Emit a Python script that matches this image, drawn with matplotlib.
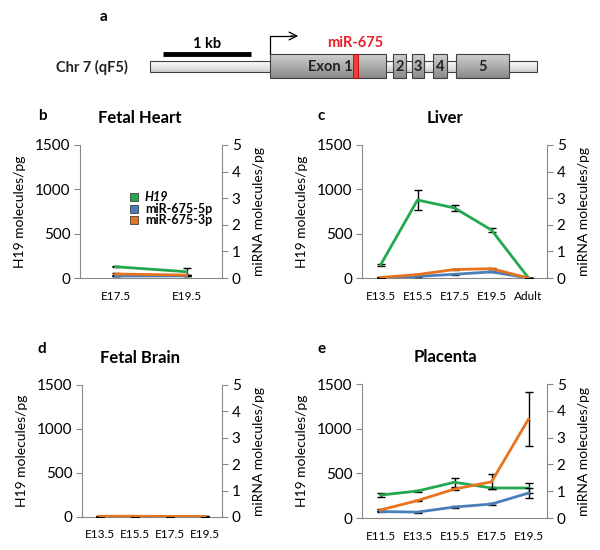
import numpy as np
import matplotlib
matplotlib.use('Agg')
import matplotlib.pyplot as plt
from matplotlib.patches import Rectangle

plt.rcParams['font.family'] = ['Lato', 'DejaVu Sans']

GREEN = '#22a84f'
BLUE = '#4a7ebb'
ORANGE = '#e8731e'

# panel data: H19 on left axis, miRNA on right axis
heart_x = ['E17.5', 'E19.5']
heart_h19 = [127, 71]
heart_h19_err = [8, 38]
heart_5p = [0.075, 0.08]
heart_5p_err = [0.01, 0.02]
heart_3p = [0.15, 0.11]
heart_3p_err = [0.02, 0.02]

liver_x = ['E13.5', 'E15.5', 'E17.5', 'E19.5', 'Adult']
liver_h19 = [146, 880, 790, 541, 0]
liver_h19_err = [10, 115, 30, 20, 0]
liver_5p = [0.0, 0.06, 0.14, 0.23, 0.0]
liver_5p_err = [0.0, 0.01, 0.02, 0.02, 0.0]
liver_3p = [0.02, 0.13, 0.32, 0.35, 0.0]
liver_3p_err = [0.0, 0.01, 0.03, 0.01, 0.0]

brain_x = ['E13.5', 'E15.5', 'E17.5', 'E19.5']
brain_h19 = [4, 3, 3, 2]
brain_h19_err = [0, 0, 0, 0]
brain_5p = [0.01, 0.01, 0.01, 0.01]
brain_5p_err = [0, 0, 0, 0]
brain_3p = [0.03, 0.03, 0.02, 0.02]
brain_3p_err = [0, 0, 0, 0]

plac_x = ['E11.5', 'E13.5', 'E15.5', 'E17.5', 'E19.5']
plac_h19 = [257, 302, 400, 336, 336]
plac_h19_err = [20, 12, 50, 10, 60]
plac_5p = [0.24, 0.22, 0.41, 0.52, 0.93]
plac_5p_err = [0.03, 0.02, 0.03, 0.05, 0.2]
plac_3p = [0.3, 0.65, 1.08, 1.35, 3.69]
plac_3p_err = [0.03, 0.02, 0.03, 0.28, 1.0]

fig = plt.figure(figsize=(6, 5.5), dpi=100)

# ---- gene diagram (pixel coordinates) ----
axg = fig.add_axes([0, 1 - 100 / 550, 1, 100 / 550])
axg.set_xlim(0, 600)
axg.set_ylim(100, 0)
axg.axis('off')


def grad_box(ax, x0, x1, y0, y1, c_top, c_bot, z=2):
    grad = np.linspace(0, 1, 50).reshape(-1, 1)
    top = np.array(matplotlib.colors.to_rgb(c_top))
    bot = np.array(matplotlib.colors.to_rgb(c_bot))
    img = top + grad[..., None] * (bot - top)
    img = np.repeat(img, 2, axis=1)
    ax.imshow(img, extent=[x0, x1, y1, y0], aspect='auto', zorder=z)
    ax.add_patch(Rectangle((x0, y0), x1 - x0, y1 - y0, fill=False,
                           edgecolor='#404040', lw=0.8, zorder=z + 0.5))


grad_box(axg, 150, 537, 61, 72, '#ffffff', '#cfcfcf', z=1)
exons = [(270, 386), (393, 406), (412, 424), (433, 447), (456, 509)]
for x0, x1 in exons:
    grad_box(axg, x0, x1, 54, 78, '#d0d0d0', '#8a8a8a', z=2)
axg.add_patch(Rectangle((353, 54), 5, 24, facecolor='#f03c3c',
                        edgecolor='#c00000', lw=0.6, zorder=4))
axg.text(330, 67, 'Exon 1', ha='center', va='center', fontsize=10.5,
         fontweight='bold', color='#222222', zorder=5)
for lab, (x0, x1) in zip(['2', '3', '4', '5'], exons[1:]):
    axg.text((x0 + x1) / 2, 67, lab, ha='center', va='center', fontsize=10.5,
             fontweight='bold', color='#222222', zorder=5)
axg.text(355, 43, 'miR-675', ha='center', va='center', fontsize=10.5,
         fontweight='bold', color='#e8202a')
axg.text(128, 67, 'Chr 7 (qF5)', ha='right', va='center', fontsize=10.5,
         fontweight='bold', color='#222222')
axg.plot([163, 251], [54, 54], color='black', lw=3.5, solid_capstyle='butt')
axg.text(207, 44, '1 kb', ha='center', va='center', fontsize=10.5, fontweight='bold')
axg.plot([270, 270, 292], [54, 36, 36], color='black', lw=0.9)
axg.annotate('', xy=(301, 36), xytext=(288, 36),
             arrowprops=dict(arrowstyle='->', lw=0.9, color='black', mutation_scale=14))
fig.text(100 / 600, 1 - 17 / 550, 'a', fontsize=11, fontweight='bold', va='center')


def panel(rect, cats, h19, h19e, p5, p5e, p3, p3e, title, letter, title_x, letter_xy):
    ax = fig.add_axes(rect)
    ax2 = ax.twinx()
    x = np.arange(len(cats))
    ekw = dict(ecolor='black', elinewidth=1.0, capsize=3, capthick=1.0)
    ax.errorbar(x, h19, yerr=h19e, color=GREEN, lw=2, **ekw)
    ax2.errorbar(x, p5, yerr=p5e, color=BLUE, lw=2, **ekw)
    ax2.errorbar(x, p3, yerr=p3e, color=ORANGE, lw=2, **ekw)
    ax.set_xlim(-0.5, len(cats) - 0.5)
    ax.set_ylim(0, 1500)
    ax2.set_ylim(0, 5)
    ax.set_yticks([0, 500, 1000, 1500])
    ax2.set_yticks([0, 1, 2, 3, 4, 5])
    ax.set_xticks(x)
    ax.set_xticklabels(cats, fontsize=8.5)
    ax.tick_params(axis='x', length=0, pad=9)
    ax.tick_params(axis='y', labelsize=11, length=4, color='#888888', pad=3)
    ax2.tick_params(axis='y', labelsize=11, length=4, color='#888888', pad=3)
    for a in (ax, ax2):
        a.spines['top'].set_visible(False)
        for s in a.spines.values():
            s.set_color('#888888')
    ax.spines['right'].set_visible(False)
    ax2.spines['left'].set_visible(False)
    ax2.spines['bottom'].set_visible(False)
    ax.set_ylabel('H19 molecules/pg', fontsize=10, labelpad=6)
    ax2.set_ylabel('miRNA molecules/pg', fontsize=10, labelpad=9)
    top_px = (1 - rect[1] - rect[3]) * 550
    fig.text(title_x / 600, 1 - (top_px - 27) / 550, title, ha='center', va='center',
             fontsize=12, fontweight='bold')
    fig.text(letter_xy[0] / 600, 1 - letter_xy[1] / 550, letter, fontsize=11,
             fontweight='bold', va='center')
    return ax, ax2


panel([80 / 600, 1 - 278 / 550, 142 / 600, 133 / 550], heart_x,
      heart_h19, heart_h19_err, heart_5p, heart_5p_err, heart_3p, heart_3p_err,
      'Fetal Heart', 'b', 140, (38, 116))
panel([362 / 600, 1 - 278 / 550, 185 / 600, 133 / 550], liver_x,
      liver_h19, liver_h19_err, liver_5p, liver_5p_err, liver_3p, liver_3p_err,
      'Liver', 'c', 445, (318, 116))
panel([82 / 600, 1 - 517 / 550, 140 / 600, 132 / 550], brain_x,
      brain_h19, brain_h19_err, brain_5p, brain_5p_err, brain_3p, brain_3p_err,
      'Fetal Brain', 'd', 140, (38, 349))
panel([362 / 600, 1 - 518 / 550, 185 / 600, 134 / 550], plac_x,
      plac_h19, plac_h19_err, plac_5p, plac_5p_err, plac_3p, plac_3p_err,
      'Placenta', 'e', 445, (318, 349))

# legend in panel b
leg_names = ['H19', 'miR-675-5p', 'miR-675-3p']
leg_colors = [GREEN, BLUE, ORANGE]
for i, (name, col) in enumerate(zip(leg_names, leg_colors)):
    ypx = 197 + i * 11.7
    fig.patches.append(Rectangle((130 / 600, 1 - (ypx + 4) / 550), 8 / 600, 8 / 550,
                                 transform=fig.transFigure, facecolor=col,
                                 edgecolor='#404040', lw=0.6))
    fig.text(145 / 600, 1 - ypx / 550, name, fontsize=9, fontweight='bold',
             style='italic' if name == 'H19' else 'normal', va='center')

plt.savefig('out.png', dpi=100)
